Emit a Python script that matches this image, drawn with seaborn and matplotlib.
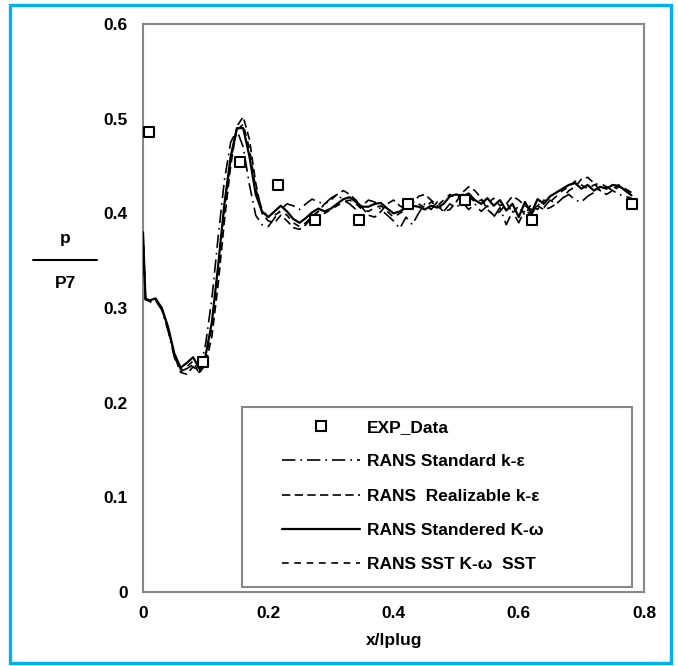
import numpy as np
import pandas as pd
import matplotlib
matplotlib.use("Agg")
import matplotlib.pyplot as plt
from matplotlib.lines import Line2D
from matplotlib.patches import Rectangle
import seaborn as sns

sns.set_style("white")
plt.rcParams['font.family'] = ['Liberation Sans', 'DejaVu Sans']
plt.rcParams['font.weight'] = 'bold'
plt.rcParams['text.color'] = 'black'
plt.rcParams['axes.labelcolor'] = 'black'

# ---------------- data ----------------
exp_x = [0.0096, 0.096, 0.155, 0.216, 0.275, 0.345, 0.423, 0.514, 0.621, 0.781]
exp_y = [0.486, 0.243, 0.454, 0.430, 0.393, 0.393, 0.410, 0.414, 0.393, 0.410]

x_sim = [0.0, 0.004, 0.01, 0.02, 0.03, 0.04, 0.05, 0.06, 0.07, 0.08, 0.09,
         0.10, 0.11, 0.12, 0.13, 0.14, 0.15, 0.16, 0.17, 0.18, 0.19,
         0.20, 0.21, 0.22, 0.23, 0.24, 0.25, 0.26, 0.27, 0.28, 0.29,
         0.30, 0.31, 0.32, 0.33, 0.34, 0.35, 0.36, 0.37, 0.38, 0.39,
         0.40, 0.41, 0.42, 0.43, 0.44, 0.45, 0.46, 0.47, 0.48, 0.49,
         0.50, 0.51, 0.52, 0.53, 0.54, 0.55, 0.56, 0.57, 0.58, 0.59,
         0.60, 0.61, 0.62, 0.63, 0.64, 0.65, 0.66, 0.67, 0.68, 0.69,
         0.70, 0.71, 0.72, 0.73, 0.74, 0.75, 0.76, 0.77, 0.78]

std_ke = [0.375, 0.308, 0.306, 0.308, 0.298, 0.276, 0.248, 0.233, 0.236, 0.240, 0.232,
          0.262, 0.310, 0.375, 0.435, 0.475, 0.488, 0.470, 0.430, 0.398, 0.388,
          0.386, 0.395, 0.404, 0.410, 0.408, 0.404, 0.410, 0.415, 0.412, 0.410,
          0.416, 0.420, 0.414, 0.410, 0.404, 0.408, 0.414, 0.412, 0.404, 0.398,
          0.392, 0.384, 0.396, 0.388, 0.400, 0.410, 0.404, 0.412, 0.402, 0.410,
          0.406, 0.412, 0.404, 0.410, 0.402, 0.408, 0.396, 0.406, 0.388, 0.402,
          0.390, 0.404, 0.398, 0.410, 0.406, 0.414, 0.410, 0.416, 0.420, 0.414,
          0.412, 0.418, 0.422, 0.426, 0.428, 0.424, 0.420, 0.418, 0.416]

real_ke = [0.378, 0.309, 0.307, 0.309, 0.299, 0.278, 0.250, 0.232, 0.230, 0.238, 0.232,
           0.240, 0.270, 0.325, 0.392, 0.450, 0.492, 0.502, 0.478, 0.432, 0.400,
           0.392, 0.390, 0.398, 0.392, 0.385, 0.383, 0.388, 0.396, 0.402, 0.410,
           0.414, 0.420, 0.424, 0.420, 0.414, 0.406, 0.398, 0.396, 0.402, 0.410,
           0.414, 0.408, 0.404, 0.410, 0.418, 0.420, 0.414, 0.408, 0.402, 0.404,
           0.412, 0.422, 0.428, 0.424, 0.416, 0.404, 0.398, 0.402, 0.410, 0.418,
           0.414, 0.408, 0.404, 0.408, 0.404, 0.406, 0.410, 0.416, 0.424, 0.428,
           0.436, 0.438, 0.432, 0.424, 0.420, 0.424, 0.428, 0.426, 0.422]

std_kw = [0.380, 0.310, 0.308, 0.310, 0.300, 0.280, 0.252, 0.237, 0.242, 0.248, 0.236,
          0.250, 0.285, 0.345, 0.410, 0.460, 0.490, 0.490, 0.460, 0.420, 0.402,
          0.396, 0.402, 0.408, 0.402, 0.394, 0.390, 0.395, 0.401, 0.405, 0.402,
          0.405, 0.410, 0.415, 0.417, 0.412, 0.407, 0.407, 0.410, 0.411, 0.405,
          0.400, 0.402, 0.406, 0.408, 0.407, 0.404, 0.408, 0.406, 0.410, 0.418,
          0.420, 0.418, 0.421, 0.414, 0.410, 0.416, 0.408, 0.414, 0.403, 0.410,
          0.396, 0.412, 0.400, 0.415, 0.410, 0.418, 0.422, 0.426, 0.430, 0.432,
          0.426, 0.430, 0.424, 0.428, 0.426, 0.430, 0.429, 0.424, 0.419]

sst_kw = [0.379, 0.309, 0.308, 0.310, 0.300, 0.279, 0.251, 0.235, 0.238, 0.244, 0.230,
          0.246, 0.280, 0.340, 0.404, 0.456, 0.488, 0.494, 0.468, 0.426, 0.404,
          0.396, 0.398, 0.402, 0.398, 0.390, 0.386, 0.390, 0.397, 0.402, 0.400,
          0.404, 0.408, 0.412, 0.414, 0.410, 0.404, 0.402, 0.406, 0.408, 0.402,
          0.396, 0.400, 0.404, 0.406, 0.410, 0.406, 0.412, 0.408, 0.414, 0.420,
          0.416, 0.420, 0.418, 0.412, 0.414, 0.410, 0.416, 0.408, 0.412, 0.400,
          0.408, 0.398, 0.410, 0.404, 0.414, 0.412, 0.418, 0.424, 0.428, 0.434,
          0.430, 0.426, 0.430, 0.432, 0.428, 0.426, 0.430, 0.426, 0.421]

labels = ["EXP_Data", "RANS Standard k-ε", "RANS  Realizable k-ε",
          "RANS Standered K-ω", "RANS SST K-ω  SST"]
x_ticks = [0, 0.2, 0.4, 0.6, 0.8]
x_ticklabels = ["0", "0.2", "0.4", "0.6", "0.8"]
y_ticks = [0, 0.1, 0.2, 0.3, 0.4, 0.5, 0.6]
y_ticklabels = ["0", "0.1", "0.2", "0.3", "0.4", "0.5", "0.6"]

# ---------------- figure ----------------
W, H = 678, 666
FS = 12.5
fig = plt.figure(figsize=(W / 100, H / 100), dpi=100)
ax = fig.add_axes([143 / W, 1 - 592 / H, (644 - 143) / W, (592 - 24) / H])

gray = "#878787"
styles = [
    (std_ke, (0, (8.0, 3.0, 1.0, 3.0)), 1.2),
    (real_ke, (0, (5.0, 2.6)), 1.2),
    (std_kw, "-", 1.6),
    (sst_kw, (0, (4.0, 3.4)), 1.2),
]
handles = []
sns.scatterplot(x=exp_x, y=exp_y, ax=ax, marker="s", s=45,
                facecolor="white", edgecolor="black", linewidth=1.5, zorder=5)
handles.append(Line2D([], [], marker="s", ls="none", markersize=6.5,
                      markerfacecolor="white", markeredgecolor="black",
                      markeredgewidth=1.5))
for vals, ls, lw in styles:
    sns.lineplot(x=x_sim, y=vals, ax=ax, color="black", linewidth=lw,
                 linestyle=ls, zorder=3)
    handles.append(Line2D([], [], color="black", linewidth=lw, linestyle=ls))

ax.set_xlim(0, 0.8)
ax.set_ylim(0, 0.6)
ax.set_xticks(x_ticks)
ax.set_xticklabels(x_ticklabels)
ax.set_yticks(y_ticks)
ax.set_yticklabels(y_ticklabels)
ax.set_xlabel("")
ax.set_ylabel("")
for s in ax.spines.values():
    s.set_color(gray)
    s.set_linewidth(1.5)
ax.tick_params(axis="both", direction="out", length=4, width=1.2, color=gray,
               labelsize=FS, labelcolor="black")
ax.tick_params(axis="y", pad=7)
ax.tick_params(axis="x", pad=6)
for t in ax.get_xticklabels() + ax.get_yticklabels():
    t.set_fontweight("bold")

# legend box and entries
box = Rectangle((242 / W, 1 - 587 / H), (632 - 242) / W, (587 - 407) / H,
                transform=fig.transFigure, facecolor="white", edgecolor=gray,
                linewidth=1.5, zorder=6, clip_on=False)
ax.add_patch(box)
leg = ax.legend(handles, labels, loc="upper left", frameon=False,
                bbox_to_anchor=(282 / W, 1 - 420 / H),
                bbox_transform=fig.transFigure, borderaxespad=0, borderpad=0,
                handlelength=4.5, handletextpad=0.4, labelspacing=1.1,
                prop={"size": FS, "weight": "bold"})
leg.set_zorder(8)

# axis labels
fig.text(394 / W, 1 - 640 / H, "x/lplug", ha="center", va="center",
         fontsize=FS, fontweight="bold", color="black")
fig.text(65 / W, 1 - 238 / H, "p", ha="center", va="center",
         fontsize=FS, fontweight="bold", color="black")
fig.text(65 / W, 1 - 284 / H, "P7", ha="center", va="center",
         fontsize=FS, fontweight="bold", color="black")
fig.add_artist(Line2D([33 / W, 97 / W], [1 - 260 / H, 1 - 260 / H],
                      transform=fig.transFigure, color="black", linewidth=1.5))

# blue outer frame
fig.add_artist(Rectangle((10 / W, 1 - 663 / H), (671 - 10) / W, (663 - 5) / H,
                         transform=fig.transFigure, facecolor="none",
                         edgecolor="#00B0F0", linewidth=2.4))

fig.savefig("out.png", dpi=100)
